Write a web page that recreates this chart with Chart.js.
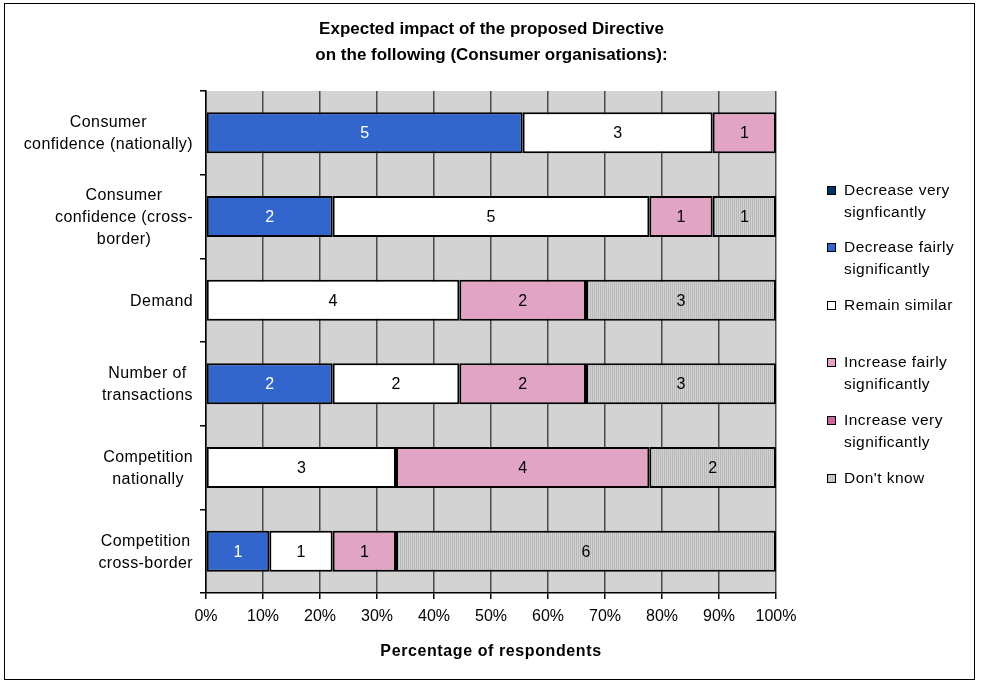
<!DOCTYPE html>
<html>
<head>
<meta charset="utf-8">
<script src="https://cdn.jsdelivr.net/npm/chart.js@4.4.1/dist/chart.umd.min.js"></script>
<style>
  body { margin: 0; background: #fff; font-family: "Liberation Sans", Arial, sans-serif; }
  #wrap { position: relative; width: 983px; height: 687px; overflow: hidden; }
  #frame { position: absolute; left: 4px; top: 3px; width: 971px; height: 677px; border: 1px solid #000; box-sizing: border-box; }
  #c { position: absolute; left: 0; top: 0; }
  .title { position: absolute; left: 0; width: 983px; text-align: center; font-weight: bold; font-size: 17px; line-height: 26px; top: 16px; }
  .xtitle { position: absolute; left: 206px; width: 570px; text-align: center; font-weight: bold; font-size: 16px; letter-spacing: 0.6px; top: 641px; line-height: 20px; }
  .leg { position: absolute; left: 827px; font-size: 15.5px; letter-spacing: 0.45px; line-height: 22px; }
  .leg .sw { position: absolute; left: 0; width: 9px; height: 9px; border: 1px solid #000; box-sizing: border-box; }
  .leg .tx { position: absolute; left: 17px; white-space: nowrap; }
</style>
</head>
<body>
<div id="wrap">
  <div id="frame"></div>
  <canvas id="c" width="983" height="687"></canvas>
  <div class="title">Expected impact of the proposed Directive<br>on the following (Consumer organisations):</div>
  <div class="xtitle" id="xtitle"></div>
  <div id="legend"></div>
</div>
<script>
// ---- data ----
const categories = [
  ["Consumer", "confidence (nationally)"],
  ["Consumer", "confidence (cross-", "border)"],
  ["Demand"],
  ["Number of", "transactions"],
  ["Competition", "nationally"],
  ["Competition", "cross-border"]
];
const seriesNames = [
  "Decrease very signficantly",
  "Decrease fairly significantly",
  "Remain similar",
  "Increase fairly significantly",
  "Increase very significantly",
  "Don't know"
];
const legendLines = [
  ["Decrease very", "signficantly"],
  ["Decrease fairly", "significantly"],
  ["Remain similar"],
  ["Increase fairly", "significantly"],
  ["Increase very", "significantly"],
  ["Don't know"]
];
const decreaseVery   = [0, 0, 0, 0, 0, 0];
const decreaseFairly = [5, 2, 0, 2, 0, 1];
const remainSimilar  = [3, 5, 4, 2, 3, 1];
const increaseFairly = [1, 1, 2, 2, 4, 1];
const increaseVery   = [0, 0, 0, 0, 0, 0];
const dontKnow       = [0, 1, 3, 3, 2, 6];
const xTickValues = [0, 10, 20, 30, 40, 50, 60, 70, 80, 90, 100];
const xAxisTitle = "Percentage of respondents";

// ---- styling ----
const FONT = '"Liberation Sans", Arial, sans-serif';
function stripePattern() {
  const c = document.createElement('canvas');
  c.width = 2; c.height = 2;
  const g = c.getContext('2d');
  g.fillStyle = '#d2d2d2'; g.fillRect(0, 0, 2, 2);
  g.fillStyle = '#b8b8b8'; g.fillRect(0, 0, 1, 2);
  return g.createPattern(c, 'repeat');
}
const pattern = stripePattern();
const colors = ['#003366', '#3366CC', '#FFFFFF', '#E2A4C4', '#CC6699', pattern];
const legendCss = ['#003366', '#3366CC', '#FFFFFF', '#E2A4C4', '#CC6699',
  'repeating-linear-gradient(90deg,#b8b8b8 0 1px,#d2d2d2 1px 2px)'];
const labelColors = ['#fff', '#fff', '#000', '#000', '#000', '#000'];

const counts = [decreaseVery, decreaseFairly, remainSimilar, increaseFairly, increaseVery, dontKnow];
const totals = categories.map((_, j) => counts.reduce((s, arr) => s + arr[j], 0));

document.getElementById('xtitle').textContent = xAxisTitle;

// HTML legend
const legendTops = [179, 236, 294, 351, 409, 467];
const legEl = document.getElementById('legend');
legendLines.forEach((lines, i) => {
  const d = document.createElement('div');
  d.className = 'leg';
  d.style.top = legendTops[i] + 'px';
  const sw = document.createElement('div');
  sw.className = 'sw';
  sw.style.top = '7px';
  sw.style.background = legendCss[i];
  const tx = document.createElement('div');
  tx.className = 'tx';
  tx.innerHTML = lines.join('<br>');
  d.appendChild(sw); d.appendChild(tx);
  legEl.appendChild(d);
});

const datasets = counts.map((arr, i) => ({
  label: seriesNames[i],
  data: arr.map((v, j) => v / totals[j] * 100),
  backgroundColor: colors[i],
  borderColor: '#000',
  borderWidth: 2,
  borderSkipped: false,
  barPercentage: 0.49,
  categoryPercentage: 1.0
}));

const plotBg = {
  id: 'plotBg',
  beforeDraw(chart) {
    const { ctx, chartArea: a } = chart;
    ctx.save();
    ctx.fillStyle = '#D3D3D3';
    ctx.fillRect(a.left, a.top, a.right - a.left, a.bottom - a.top);
    ctx.restore();
  }
};

const valueLabels = {
  id: 'valueLabels',
  afterDatasetsDraw(chart) {
    const ctx = chart.ctx;
    ctx.save();
    ctx.font = '16px ' + FONT;
    ctx.textAlign = 'center';
    ctx.textBaseline = 'middle';
    chart.data.datasets.forEach((ds, i) => {
      const meta = chart.getDatasetMeta(i);
      meta.data.forEach((bar, j) => {
        const v = counts[i][j];
        if (!v) return;
        const p = bar.getProps(['x', 'y', 'base'], true);
        ctx.fillStyle = labelColors[i];
        ctx.fillText(String(v), (p.x + p.base) / 2, p.y + 1);
      });
    });
    ctx.restore();
  }
};

const yLabels = {
  id: 'yLabels',
  afterDraw(chart) {
    const ctx = chart.ctx;
    const ys = chart.scales.y;
    ctx.save();
    ctx.font = '16px ' + FONT;
    try { ctx.letterSpacing = '0.4px'; } catch (e) {}
    ctx.fillStyle = '#000';
    ctx.textAlign = 'center';
    ctx.textBaseline = 'middle';
    const lineH = 22;
    const rightEdge = ys.right - 13;
    categories.forEach((lines, j) => {
      const cy = ys.getPixelForValue(j);
      const w = Math.max(...lines.map(l => ctx.measureText(l).width));
      const cx = rightEdge - w / 2;
      const y0 = cy - (lines.length - 1) * lineH / 2;
      lines.forEach((l, k) => ctx.fillText(l, cx, y0 + k * lineH + 1));
    });
    ctx.restore();
  }
};

new Chart(document.getElementById('c'), {
  type: 'bar',
  data: { labels: categories, datasets },
  options: {
    indexAxis: 'y',
    responsive: false,
    animation: false,
    events: [],
    layout: { padding: { left: 0, top: 91, right: 207, bottom: 0 } },
    plugins: { legend: { display: false }, tooltip: { enabled: false }, title: { display: false } },
    scales: {
      x: {
        stacked: true,
        min: 0, max: 100,
        afterBuildTicks(s) { s.ticks = xTickValues.map(v => ({ value: v })); },
        ticks: {
          callback: v => v + '%',
          font: { size: 16, family: FONT },
          color: '#000',
          padding: 8,
          maxRotation: 0,
          autoSkip: false
        },
        grid: { color: '#4a4a4a', lineWidth: 1.5, tickLength: 6, tickColor: '#000', tickWidth: 1.5 },
        border: { color: '#000', width: 1.5 },
        afterFit(s) { s.height = 94; }
      },
      y: {
        stacked: true,
        ticks: { display: false },
        grid: { drawOnChartArea: false, tickLength: 6, color: '#000', lineWidth: 1.5, offset: true },
        border: { color: '#000', width: 1.5 },
        afterFit(s) { s.width = 206; }
      }
    }
  },
  plugins: [plotBg, valueLabels, yLabels]
});
</script>
</body>
</html>
